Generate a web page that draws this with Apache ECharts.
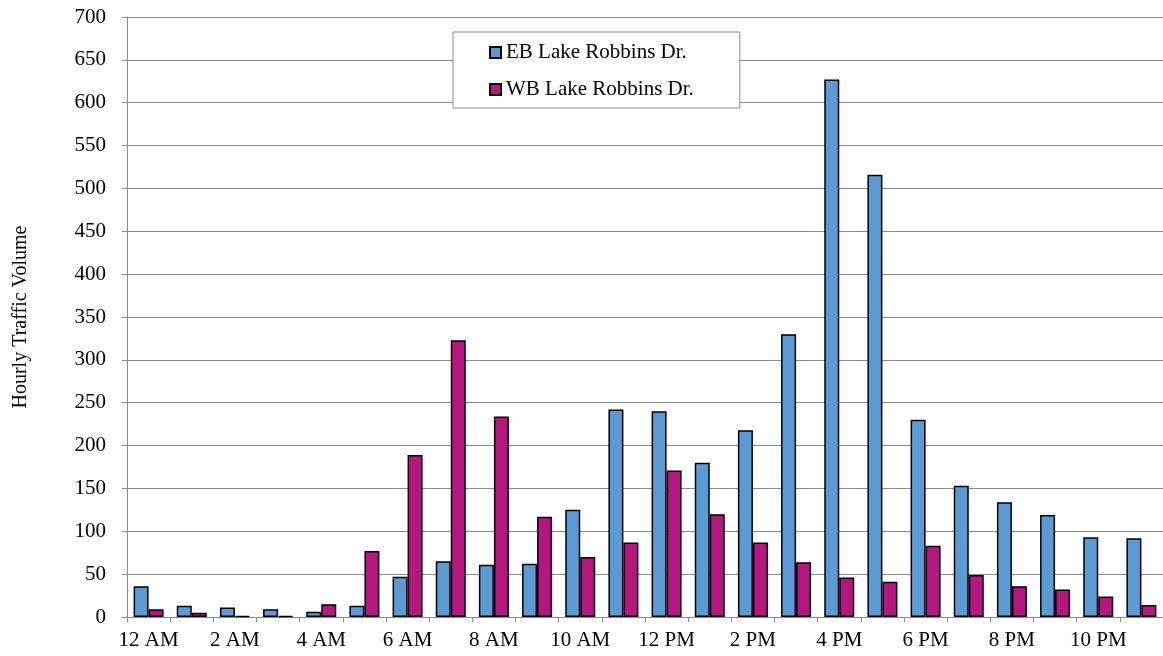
<!DOCTYPE html>
<html>
<head>
<meta charset="utf-8">
<script src="https://cdn.jsdelivr.net/npm/echarts@6/dist/echarts.min.js"></script>
<style>
html,body{margin:0;padding:0;background:#fff;}
#chart{width:1163px;height:656px;}
</style>
</head>
<body>
<div id="chart"></div>
<script>
var hours = ['12 AM','1 AM','2 AM','3 AM','4 AM','5 AM','6 AM','7 AM','8 AM','9 AM','10 AM','11 AM',
             '12 PM','1 PM','2 PM','3 PM','4 PM','5 PM','6 PM','7 PM','8 PM','9 PM','10 PM','11 PM'];
var ebValues = [36, 13, 11, 9, 6, 13, 47, 65, 61, 62, 125, 242, 240, 180, 218, 330, 627, 516, 230, 153, 134, 119, 93, 92];
var wbValues = [9, 5, 1, 1, 15, 77, 189, 323, 234, 117, 70, 87, 171, 120, 87, 64, 46, 41, 83, 49, 36, 32, 24, 14];
var seriesNames = ['EB Lake Robbins Dr.', 'WB Lake Robbins Dr.'];
var yTicks = {min: 0, max: 700, interval: 50};

var font = '"Liberation Serif", "Times New Roman", serif';
var chart = echarts.init(document.getElementById('chart'));
chart.setOption({
  animation: false,
  backgroundColor: '#fff',
  textStyle: {fontFamily: font, color: '#000'},
  grid: {left: 127, right: 0, top: 17, bottom: 39, containLabel: false},
  legend: {
    orient: 'vertical',
    left: 453, top: 32,
    padding: [10, 46, 8, 36],
    itemGap: 16,
    itemWidth: 11, itemHeight: 11,
    backgroundColor: '#fff',
    borderColor: '#8c8c8c', borderWidth: 1,
    icon: 'rect',
    textStyle: {fontFamily: font, fontSize: 21, color: '#000'},
    data: seriesNames
  },
  xAxis: {
    type: 'category',
    data: hours,
    axisLine: {lineStyle: {color: '#8c8c8c', width: 1}},
    axisTick: {show: true, interval: 0, length: 5, lineStyle: {color: '#8c8c8c'}},
    axisLabel: {interval: 1, fontFamily: font, fontSize: 21, color: '#000', margin: 13}
  },
  yAxis: {
    type: 'value',
    min: yTicks.min, max: yTicks.max, interval: yTicks.interval,
    name: 'Hourly Traffic Volume',
    nameLocation: 'middle',
    nameGap: 96,
    nameTextStyle: {fontFamily: font, fontSize: 20, color: '#000'},
    axisLine: {show: true, lineStyle: {color: '#8c8c8c', width: 1}},
    axisTick: {show: true, length: 5, lineStyle: {color: '#8c8c8c'}},
    axisLabel: {fontFamily: font, fontSize: 21, color: '#000', margin: 21},
    splitLine: {show: true, lineStyle: {color: '#8c8c8c', width: 1}}
  },
  series: [
    {
      name: seriesNames[0], type: 'bar', data: ebValues,
      barWidth: 15, barGap: '0%',
      itemStyle: {color: '#5B9BD5', borderColor: '#000', borderWidth: 1.5}
    },
    {
      name: seriesNames[1], type: 'bar', data: wbValues,
      barWidth: 15, barGap: '0%',
      itemStyle: {color: '#B5167F', borderColor: '#000', borderWidth: 1.5}
    }
  ]
});
</script>
</body>
</html>
